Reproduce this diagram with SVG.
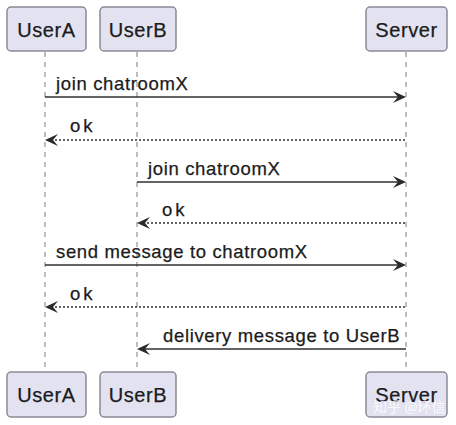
<svg xmlns="http://www.w3.org/2000/svg" width="456" height="425" viewBox="0 0 456 425">
<style>
.box{fill:#E2E2F0;stroke:#8a8a96;stroke-width:1.5}
.pt{font-family:"Liberation Sans",Arial,sans-serif;font-size:20px;fill:#1b1b1b;stroke:#1b1b1b;stroke-width:0.25;text-anchor:middle;letter-spacing:0.6px}
.life{stroke:#a8a8a8;stroke-width:1.5;stroke-dasharray:5,5;fill:none}
.msg{stroke:#2f2f2f;stroke-width:1.5;fill:none}
.dash{stroke-dasharray:2,2}
.head{fill:#2a2a2a}
.ml{font-family:"Liberation Sans",Arial,sans-serif;font-size:18.5px;fill:#1b1b1b;stroke:#1b1b1b;stroke-width:0.25;letter-spacing:0.65px}
.ok{letter-spacing:3px}
.wm{font-family:"Noto Sans CJK SC","Liberation Sans",sans-serif;font-size:14px;fill:#ffffff;fill-opacity:0.85}
</style>
<rect width="456" height="425" fill="#ffffff"/>
<g id="lifelines">
<line class="life" x1="45" y1="52" x2="45" y2="371"/>
<line class="life" x1="137" y1="52" x2="137" y2="371"/>
<line class="life" x1="406" y1="52" x2="406" y2="371"/>
</g>
<g id="UserA">
<rect class="box" x="7" y="7" width="79" height="44" rx="4"/>
<text class="pt" x="46.5" y="37">UserA</text>
</g>
<g id="UserB">
<rect class="box" x="100" y="7" width="76" height="44" rx="4"/>
<text class="pt" x="138" y="37">UserB</text>
</g>
<g id="Server">
<rect class="box" x="366" y="7" width="81" height="44" rx="4"/>
<text class="pt" x="406.5" y="37">Server</text>
</g>
<g id="UserA-bottom">
<rect class="box" x="7" y="372" width="79" height="45" rx="4"/>
<text class="pt" x="46.5" y="402">UserA</text>
</g>
<g id="UserB-bottom">
<rect class="box" x="100" y="372" width="76" height="45" rx="4"/>
<text class="pt" x="138" y="402">UserB</text>
</g>
<g id="Server-bottom">
<rect class="box" x="366" y="372" width="81" height="45" rx="4"/>
<text class="pt" x="406.5" y="402">Server</text>
</g>
<g id="connectors">
<line class="msg" x1="45" y1="97" x2="400" y2="97"/>
<polygon class="head" points="406,97 393,91 398,97 393,103"/>
<text class="ml" x="56" y="90">join chatroomX</text>

<line class="msg dash" x1="51" y1="140" x2="406" y2="140"/>
<polygon class="head" points="45,140 58,134 53,140 58,146"/>
<text class="ml ok" x="70" y="132">ok</text>

<line class="msg" x1="137" y1="182" x2="400" y2="182"/>
<polygon class="head" points="406,182 393,176 398,182 393,188"/>
<text class="ml" x="148" y="175">join chatroomX</text>

<line class="msg dash" x1="143" y1="223" x2="406" y2="223"/>
<polygon class="head" points="137,223 150,217 145,223 150,229"/>
<text class="ml ok" x="162" y="216">ok</text>

<line class="msg" x1="45" y1="265" x2="400" y2="265"/>
<polygon class="head" points="406,265 393,259 398,265 393,271"/>
<text class="ml" x="56" y="258">send message to chatroomX</text>

<line class="msg dash" x1="51" y1="307" x2="406" y2="307"/>
<polygon class="head" points="45,307 58,301 53,307 58,313"/>
<text class="ml ok" x="70" y="300">ok</text>

<line class="msg" x1="143" y1="349" x2="406" y2="349"/>
<polygon class="head" points="137,349 150,343 145,349 150,355"/>
<text class="ml" x="163" y="342">delivery message to UserB</text>
</g>
<text class="wm" x="373" y="412">知乎 @环信</text>
</svg>
